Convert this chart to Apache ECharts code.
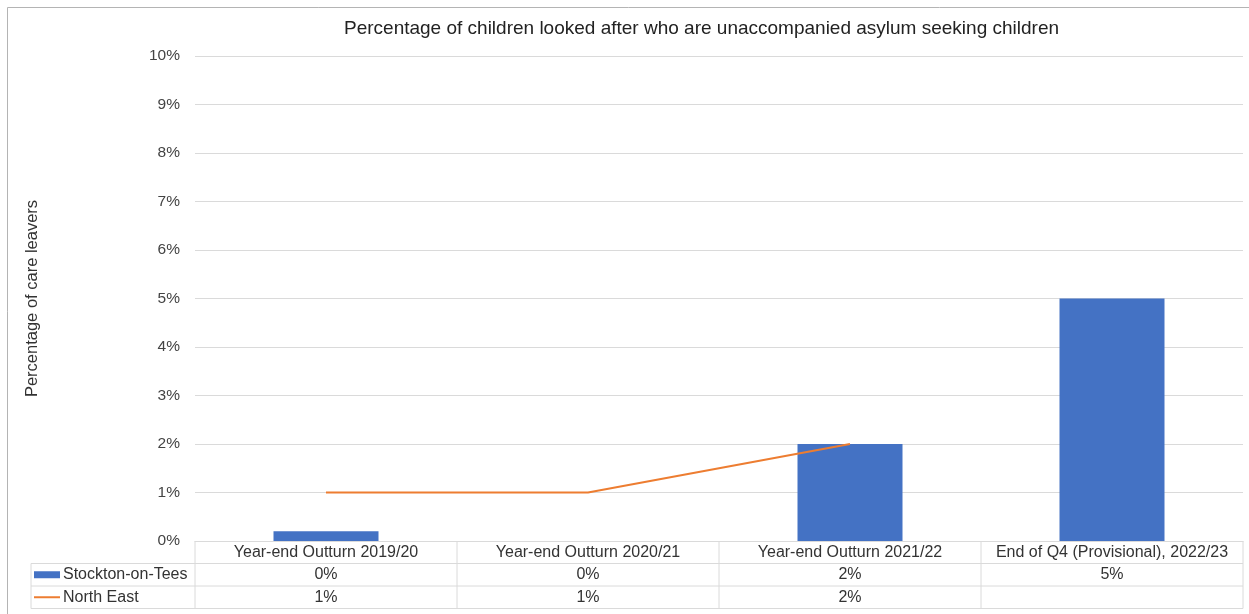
<!DOCTYPE html>
<html>
<head>
<meta charset="utf-8">
<script src="https://cdn.jsdelivr.net/npm/echarts@6/dist/echarts.min.js"></script>
<style>
html,body{margin:0;padding:0;background:#fff;}
#c{width:1249px;height:614px;}
</style>
</head>
<body>
<div id="c"></div>
<script>
const categories = ['Year-end Outturn 2019/20', 'Year-end Outturn 2020/21', 'Year-end Outturn 2021/22', 'End of Q4 (Provisional), 2022/23'];
const stocktonValues = [0.2, 0, 2, 5];
const northEastValues = [1, 1, 2, null];
const yTicks = [0, 1, 2, 3, 4, 5, 6, 7, 8, 9, 10];
const seriesNames = ['Stockton-on-Tees', 'North East'];
const seriesColors = ['#4472C4', '#ED7D31'];
const titleText = 'Percentage of children looked after who are unaccompanied asylum seeking children';
const yAxisTitle = 'Percentage of care leavers';

const FONT = '"Liberation Sans", Arial, sans-serif';
const GRID = {left: 195, right: 6, top: 56, bottom: 73};
const ROW_H = 22.5;
const TABLE_LEFT = 31;
const LINE_COLOR = '#dadada';
const TEXT_COLOR = '#333';

const fmt = v => (v === null || v === undefined) ? ' ' : Math.round(v) + '%';

const chart = echarts.init(document.getElementById('c'));
chart.setOption({
  animation: false,
  backgroundColor: '#fff',
  textStyle: {fontFamily: FONT},
  title: {
    text: titleText,
    left: 339, top: 14,
    textStyle: {fontFamily: FONT, fontSize: 19, fontWeight: 'normal', color: '#222'}
  },
  grid: {left: GRID.left, right: GRID.right, top: GRID.top, bottom: GRID.bottom, containLabel: false},
  xAxis: {
    type: 'category',
    data: categories,
    axisLine: {show: true, lineStyle: {color: LINE_COLOR}},
    axisTick: {show: false},
    axisLabel: {
      margin: 0,
      interval: 0,
      formatter: (val, idx) => val + '\n' + fmt(stocktonValues[idx]) + '\n' + fmt(northEastValues[idx]),
      fontFamily: FONT, fontSize: 16, color: TEXT_COLOR, lineHeight: ROW_H
    }
  },
  yAxis: {
    type: 'value',
    min: 0, max: 10, interval: 1,
    name: yAxisTitle,
    nameLocation: 'middle',
    nameGap: 154,
    nameRotate: 90,
    nameTextStyle: {fontFamily: FONT, fontSize: 16.5, color: TEXT_COLOR},
    axisLine: {show: false},
    axisTick: {show: false},
    axisLabel: {
      margin: 15,
      fontFamily: FONT, fontSize: 15.5, color: '#444',
      formatter: v => yTicks.indexOf(v) >= 0 ? v + '%' : ''
    },
    splitLine: {lineStyle: {color: LINE_COLOR, width: 1}}
  },
  series: [
    {
      name: seriesNames[0],
      type: 'bar',
      data: stocktonValues,
      barWidth: 105,
      itemStyle: {color: seriesColors[0]}
    },
    {
      name: seriesNames[1],
      type: 'line',
      data: northEastValues,
      symbol: 'none',
      showSymbol: false,
      lineStyle: {color: seriesColors[1], width: 2},
      itemStyle: {color: seriesColors[1]}
    }
  ]
});

// Data-table grid lines, legend keys and outer frame, positioned from the axis scale
function drawTable() {
  const centers = categories.map((c, i) => chart.convertToPixel({xAxisIndex: 0}, i));
  const band = centers.length > 1 ? centers[1] - centers[0] : 0;
  const x0 = centers[0] - band / 2;
  const x1 = centers[centers.length - 1] + band / 2;
  const yTop = chart.convertToPixel({yAxisIndex: 0}, 0);
  const els = [];
  const line = (xa, ya, xb, yb) => els.push({
    type: 'line', silent: true,
    shape: {x1: xa, y1: ya, x2: xb, y2: yb},
    style: {stroke: LINE_COLOR, lineWidth: 1}
  });
  for (let r = 1; r <= 3; r++) line(TABLE_LEFT, yTop + r * ROW_H, x1, yTop + r * ROW_H);
  for (let i = 0; i <= centers.length; i++) {
    const x = x0 + i * band;
    line(x, yTop, x, yTop + 3 * ROW_H);
  }
  line(TABLE_LEFT, yTop + ROW_H, TABLE_LEFT, yTop + 3 * ROW_H);

  // legend keys + names in the table's first column
  const keyX = TABLE_LEFT + 3, keyW = 26;
  seriesNames.forEach((name, i) => {
    const cy = yTop + ROW_H * (i + 1.5);
    if (i === 0) {
      els.push({type: 'rect', silent: true,
        shape: {x: keyX, y: cy - 3.5, width: keyW, height: 7},
        style: {fill: seriesColors[i]}});
    } else {
      els.push({type: 'line', silent: true,
        shape: {x1: keyX, y1: cy, x2: keyX + keyW, y2: cy},
        style: {stroke: seriesColors[i], lineWidth: 2}});
    }
    els.push({type: 'text', silent: true,
      x: keyX + keyW + 3, y: cy,
      style: {text: name, font: '16px ' + FONT, fill: TEXT_COLOR, textVerticalAlign: 'middle', verticalAlign: 'middle'}});
  });

  els.push({
    type: 'rect', silent: true,
    shape: {x: 7.5, y: 7.5, width: 1260, height: 640},
    style: {fill: 'none', stroke: '#b4b4b4', lineWidth: 1}
  });
  chart.setOption({graphic: {elements: els}});
}
drawTable();
</script>
</body>
</html>
